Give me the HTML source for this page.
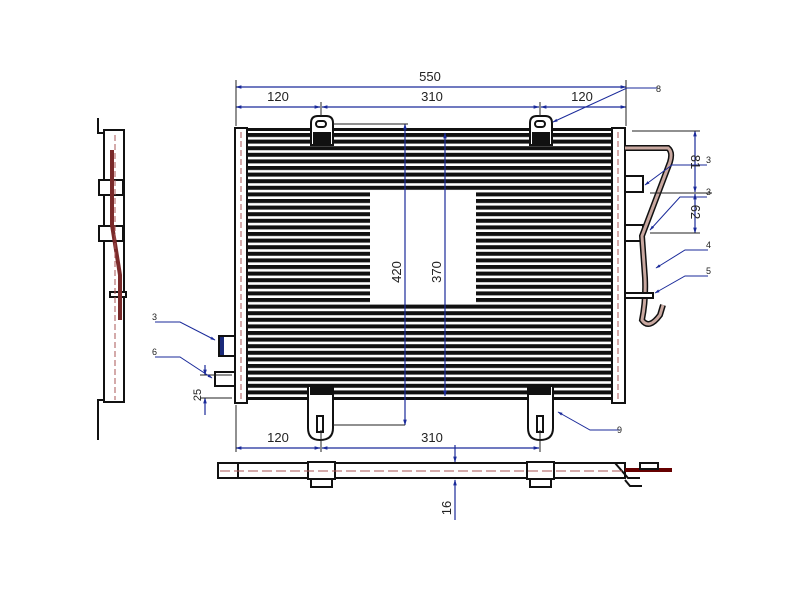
<!DOCTYPE html>
<html><head><meta charset="utf-8"><style>
html,body{margin:0;padding:0;background:#fff;}
svg{display:block;}
text{font-family:"Liberation Sans",sans-serif;font-size:13px;fill:#222;}
.s{font-size:9px;}
</style></head><body>
<svg width="800" height="600" viewBox="0 0 800 600" xmlns="http://www.w3.org/2000/svg">
<defs>
<pattern id="fins" x="0" y="133" width="10" height="6.6" patternUnits="userSpaceOnUse">
<rect x="0" y="0" width="10" height="4" fill="#111"/>
</pattern>
<marker id="a" viewBox="0 0 10 10" refX="9" refY="5" markerWidth="5" markerHeight="5" orient="auto-start-reverse"><path d="M0,2 L10,5 L0,8z" fill="#1a2a9a"/></marker>
</defs>
<!-- core -->
<rect x="247" y="132" width="364" height="268" fill="url(#fins)"/>
<rect x="247" y="128" width="364" height="3" fill="#111"/>
<rect x="370" y="191" width="106" height="113" fill="#fff"/>
<!-- tanks -->
<rect x="235" y="128" width="12" height="275" fill="#fff" stroke="#111" stroke-width="2"/>
<line x1="241" y1="132" x2="241" y2="400" stroke="#a55" stroke-dasharray="6,3"/>
<rect x="612" y="128" width="13" height="275" fill="#fff" stroke="#111" stroke-width="2"/>
<line x1="618" y1="132" x2="618" y2="400" stroke="#a55" stroke-dasharray="6,3"/>
<!-- top brackets -->
<g fill="#fff" stroke="#111" stroke-width="2">
<path d="M311,145 V123 Q311,116 318,116 H326 Q333,116 333,123 V145z"/>
<rect x="316" y="121" width="10" height="6" rx="3"/>
<path d="M530,145 V123 Q530,116 537,116 H545 Q552,116 552,123 V145z"/>
<rect x="535" y="121" width="10" height="6" rx="3"/>
<!-- bottom brackets -->
<path d="M308,386 V428 Q308,440 320,440 Q333,440 333,428 V386z"/>
<rect x="317" y="416" width="6" height="16"/>
<path d="M528,386 V428 Q528,440 540,440 Q553,440 553,428 V386z"/>
<rect x="537" y="416" width="6" height="16"/>
</g>
<rect x="310" y="385" width="22" height="10" fill="#111"/>
<rect x="529" y="385" width="22" height="10" fill="#111"/>
<rect x="313" y="132" width="18" height="12" fill="#111"/>
<rect x="532" y="132" width="18" height="12" fill="#111"/>
<!-- left-side blocks -->
<g fill="#fff" stroke="#111" stroke-width="2">
<rect x="219" y="336" width="16" height="20"/>
<rect x="215" y="372" width="20" height="14"/>
</g>
<rect x="220" y="337" width="4" height="18" fill="#1a2a7a"/>
<!-- right pipe -->
<g fill="none" stroke="#111" stroke-width="2">
<rect x="625" y="176" width="18" height="16" fill="#fff"/>
<rect x="625" y="225" width="18" height="16" fill="#fff"/>
<path d="M625,148 H668 Q673,152 670,162 L642,236 L645,278 Q646,300 642,320 Q649,330 660,315 L663,305" stroke-width="6"/>
<path d="M625,148 H668 Q673,152 670,162 L642,236 L645,278 Q646,300 642,320 Q649,330 660,315 L663,305" stroke="#c9a8a0" stroke-width="3"/>
<rect x="625" y="293" width="28" height="5" fill="#fff"/>
</g>
<!-- dims top -->
<g stroke="#1a2a9a" stroke-width="1.2" fill="none">
<line x1="236" y1="87" x2="626" y2="87" marker-start="url(#a)" marker-end="url(#a)"/>
<line x1="236" y1="107" x2="320" y2="107" marker-start="url(#a)" marker-end="url(#a)"/>
<line x1="322" y1="107" x2="539" y2="107" marker-start="url(#a)" marker-end="url(#a)"/>
<line x1="541" y1="107" x2="626" y2="107" marker-start="url(#a)" marker-end="url(#a)"/>
<line x1="405" y1="124" x2="405" y2="425" marker-start="url(#a)" marker-end="url(#a)"/>
<line x1="445" y1="133" x2="445" y2="396" marker-start="url(#a)" marker-end="url(#a)"/>
<line x1="236" y1="448" x2="320" y2="448" marker-start="url(#a)" marker-end="url(#a)"/>
<line x1="322" y1="448" x2="539" y2="448" marker-start="url(#a)" marker-end="url(#a)"/>
<line x1="695" y1="131" x2="695" y2="192" marker-start="url(#a)" marker-end="url(#a)"/>
<line x1="695" y1="194" x2="695" y2="233" marker-start="url(#a)" marker-end="url(#a)"/>
<line x1="455" y1="445" x2="455" y2="462" marker-end="url(#a)"/>
<line x1="455" y1="520" x2="455" y2="480" marker-end="url(#a)"/>
<line x1="205" y1="365" x2="205" y2="375" marker-end="url(#a)"/>
<line x1="205" y1="415" x2="205" y2="398" marker-end="url(#a)"/>
</g>
<g stroke="#222" stroke-width="1">
<line x1="236" y1="80" x2="236" y2="126"/><line x1="626" y1="80" x2="626" y2="126"/>
<line x1="321" y1="102" x2="321" y2="116"/><line x1="540" y1="102" x2="540" y2="116"/>
<line x1="333" y1="124" x2="408" y2="124"/><line x1="333" y1="425" x2="405" y2="425"/>
<line x1="236" y1="405" x2="236" y2="452"/><line x1="321" y1="430" x2="321" y2="452"/><line x1="540" y1="430" x2="540" y2="452"/>
<line x1="632" y1="131" x2="700" y2="131"/><line x1="650" y1="193" x2="712" y2="193"/><line x1="650" y1="233" x2="700" y2="233"/>
<line x1="200" y1="375" x2="232" y2="375"/><line x1="200" y1="398" x2="232" y2="398"/>
</g>
<!-- callouts -->
<g stroke="#1a2a9a" stroke-width="1" fill="none">
<polyline points="657,88 627,88 553,122" marker-end="url(#a)"/>
<polyline points="707,165 672,165 645,185" marker-end="url(#a)"/>
<polyline points="707,197 680,197 650,230" marker-end="url(#a)"/>
<polyline points="708,250 685,250 656,268" marker-end="url(#a)"/>
<polyline points="708,276 685,276 655,293" marker-end="url(#a)"/>
<polyline points="620,430 590,430 558,412" marker-end="url(#a)"/>
<polyline points="155,322 180,322 215,340" marker-end="url(#a)"/>
<polyline points="155,357 180,357 212,378" marker-end="url(#a)"/>
</g>
<!-- labels -->
<text x="430" y="81" text-anchor="middle">550</text>
<text x="278" y="101" text-anchor="middle">120</text>
<text x="432" y="101" text-anchor="middle">310</text>
<text x="582" y="101" text-anchor="middle">120</text>
<text x="278" y="442" text-anchor="middle">120</text>
<text x="432" y="442" text-anchor="middle">310</text>
<text transform="translate(401,272) rotate(-90)" text-anchor="middle">420</text>
<text transform="translate(441,272) rotate(-90)" text-anchor="middle">370</text>
<text transform="translate(691,162) rotate(90)" text-anchor="middle">81</text>
<text transform="translate(691,212) rotate(90)" text-anchor="middle">62</text>
<text transform="translate(451,508) rotate(-90)" text-anchor="middle">16</text>
<text transform="translate(201,395) rotate(-90)" text-anchor="middle" class="s" style="font-size:11px">25</text>
<text x="656" y="92" class="s">8</text><text x="706" y="163" class="s">3</text><text x="706" y="195" class="s">3</text>
<text x="706" y="248" class="s">4</text><text x="706" y="274" class="s">5</text><text x="617" y="433" class="s">9</text>
<text x="152" y="320" class="s">3</text><text x="152" y="355" class="s">6</text>
<!-- bottom view -->
<g fill="#fff" stroke="#111" stroke-width="2">
<rect x="218" y="463" width="407" height="15"/>
<rect x="218" y="463" width="20" height="15"/>
<rect x="308" y="462" width="27" height="17"/>
<rect x="311" y="479" width="21" height="8"/>
<rect x="527" y="462" width="27" height="17"/>
<rect x="530" y="479" width="21" height="8"/>
<path d="M615,463 L628,478 L640,478 M625,480 L630,486 H642" fill="none"/>
<path d="M625,470 H672" stroke="#600" stroke-width="4" fill="none"/>
<rect x="640" y="463" width="18" height="6" fill="#fff"/>
</g>
<line x1="220" y1="471" x2="623" y2="471" stroke="#a55" stroke-dasharray="10,4"/>
<!-- left side view -->
<g fill="none" stroke="#111" stroke-width="2">
<path d="M98,118 V133 H104 V400 H98 V440"/>
<rect x="104" y="130" width="20" height="272"/>
<rect x="99" y="180" width="24" height="15" fill="#fff"/>
<rect x="99" y="226" width="24" height="15" fill="#fff"/>
<rect x="110" y="292" width="16" height="5" fill="#fff"/>
</g>
<path d="M112,150 V225 L120,275 L120,320" stroke="#7a2a2a" stroke-width="4" fill="none"/>
<line x1="115" y1="135" x2="115" y2="400" stroke="#a55" stroke-dasharray="6,3"/>
</svg>
</body></html>
